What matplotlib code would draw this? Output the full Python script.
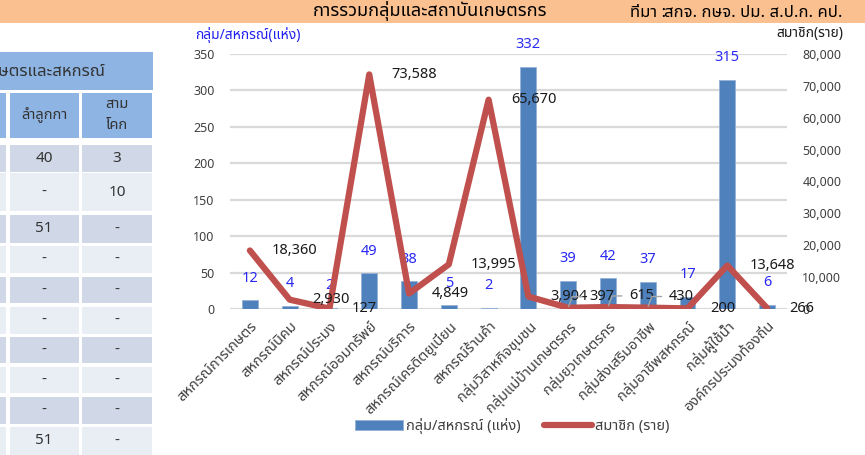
import matplotlib
matplotlib.use('Agg')
import matplotlib.pyplot as plt
from matplotlib.patches import Rectangle
import numpy as np

plt.rcParams['font.family'] = ['Noto Sans', 'Noto Sans Thai', 'DejaVu Sans']

# ข้อมูลกราฟ
categories = ['สหกรณ์การเกษตร', 'สหกรณ์นิคม', 'สหกรณ์ประมง', 'สหกรณ์ออมทรัพย์',
              'สหกรณ์บริการ', 'สหกรณ์เครดิตยูเนี่ยน', 'สหกรณ์ร้านค้า',
              'กลุ่มวิสาหกิจชุมชน', 'กลุ่มแม่บ้านเกษตรกร', 'กลุ่มยุวเกษตรกร',
              'กลุ่มส่งเสริมอาชีพ', 'กลุ่มอาชีพสหกรณ์', 'กลุ่มผู้ใช้น้ำ',
              'องค์กรประมงท้องถิ่น']
groups = [12, 4, 2, 49, 38, 5, 2, 332, 39, 42, 37, 17, 315, 6]
members = [18360, 2930, 127, 73588, 4849, 13995, 65670, 3904, 397, 615, 430, 200, 13648, 266]
# ป้ายที่ excel ยกขึ้นพร้อมเส้นโยง
lifted = [8, 9, 10]

# ตารางด้านซ้าย (ถูกตัดขอบ)
table_header = 'เกษตรและสหกรณ์'
col_names = ['ลำลูกกา', 'สาม\nโคก']
col_lamlukka = ['40', '-', '51', '-', '-', '-', '-', '-', '-', '51']
col_samkhok = ['3', '10', '-', '-', '-', '-', '-', '-', '-', '-']
row_tops = [145, 173, 215, 246, 277, 307, 337, 367, 397, 427]
row_bots = [172, 211, 243, 273, 303, 334, 363, 393, 424, 455]

W, H = 865, 455
fig = plt.figure(figsize=(W / 100, H / 100), dpi=100)


def fx(x):
    return x / W


def fy(y):
    return 1 - y / H


def box(x0, y0, x1, y1, color):
    fig.patches.append(Rectangle((fx(x0), fy(y1)), (x1 - x0) / W, (y1 - y0) / H,
                                 transform=fig.transFigure, color=color, lw=0, zorder=0))


# แถบหัวเรื่อง
box(0, 0, W, 23, '#FAC090')
fig.text(fx(430), fy(11), 'การรวมกลุ่มและสถาบันเกษตรกร', ha='center', va='center',
         fontsize=13, fontweight='bold', color='black')
fig.text(fx(630), fy(13), 'ที่มา :', ha='left', va='center', fontsize=12,
         fontweight='bold', color='black')
fig.text(fx(843), fy(13), 'สกจ. กษจ. ปม. ส.ป.ก. คป.', ha='right', va='center',
         fontsize=12, color='black')

# ตาราง
head_c = '#8DB4E2'
box(0, 52, 153, 90, head_c)
fig.text(fx(105), fy(72), table_header, ha='right', va='center', fontsize=12, color='#333333')
box(0, 93, 6, 138, head_c)
box(10, 93, 79, 138, head_c)
box(82, 93, 152, 138, head_c)
fig.text(fx(44), fy(115), col_names[0], ha='center', va='center', fontsize=10.5, color='#333333')
fig.text(fx(117), fy(115), col_names[1], ha='center', va='center', fontsize=10.5,
         color='#333333', linespacing=1.6)
for i in range(len(row_tops)):
    c = '#D0D8E8' if i % 2 == 0 else '#E9EDF4'
    y0, y1 = row_tops[i], row_bots[i]
    box(0, y0, 6, y1, c)
    box(10, y0, 79, y1, c)
    box(82, y0, 152, y1, c)
    ym = (y0 + y1) / 2
    fig.text(fx(44), fy(ym), col_lamlukka[i], ha='center', va='center', fontsize=11, color='#333333')
    fig.text(fx(117), fy(ym), col_samkhok[i], ha='center', va='center', fontsize=11, color='#333333')

# กราฟ
ax = fig.add_axes([fx(230), fy(309), 557 / W, 255 / H])
ax2 = ax.twinx()
x = np.arange(len(categories))

bars = ax.bar(x, groups, width=0.4, color='#4F81BD', edgecolor='#95B3D7', lw=0.6,
              label='กลุ่ม/สหกรณ์ (แห่ง)')
for xi, v in zip(x, groups):
    ax.annotate(str(v), (xi, v), xytext=(0, 16), textcoords='offset points',
                ha='center', va='center', fontsize=10.5, color='#2A2AF5')

line, = ax2.plot(x, members, color='#C0504D', lw=4.5, solid_capstyle='round',
                 solid_joinstyle='round', label='สมาชิก (ราย)', zorder=3)
for i, (xi, v) in enumerate(zip(x, members)):
    if i in lifted:
        ax2.annotate(f'{v:,}', (xi, v), xytext=(15, 8), textcoords='offset points',
                     ha='left', va='center', fontsize=10.5, color='#1A1A1A', zorder=4,
                     arrowprops=dict(arrowstyle='-', color='#A6A6A6', lw=1,
                                     connectionstyle='angle,angleA=0,angleB=70,rad=0',
                                     shrinkA=3, shrinkB=1))
    else:
        ax2.annotate(f'{v:,}', (xi, v), xytext=(16, 0), textcoords='offset points',
                     ha='left', va='center', fontsize=10.5, color='#1A1A1A', zorder=4)

ax.set_xlim(-0.5, len(categories) - 0.5)
ax.set_ylim(0, 350)
ax.set_yticks(np.arange(0, 351, 50))
ax2.set_ylim(0, 80000)
ax2.set_yticks(np.arange(0, 80001, 10000))
ax2.set_yticklabels([f'{int(t):,}' for t in np.arange(0, 80001, 10000)])

ax.yaxis.grid(True, color='#D9D9D9', lw=1.6)
ax.set_axisbelow(True)
for a in (ax, ax2):
    for s in a.spines.values():
        s.set_visible(False)
ax.tick_params(axis='y', length=0, pad=11, labelsize=9, labelcolor='#404040')
ax2.tick_params(axis='y', length=0, pad=11, labelsize=9, labelcolor='#404040')
ax.tick_params(axis='x', length=0, pad=7)
ax.set_xticks(x)
ax.set_xticklabels(categories, rotation=45, ha='right', rotation_mode='anchor',
                   fontsize=10.5, color='#404040')

fig.text(fx(195), fy(35), 'กลุ่ม/สหกรณ์(แห่ง)', ha='left', va='center', fontsize=10,
         color='#2020F0')
fig.text(fx(843), fy(34), 'สมาชิก(ราย)', ha='right', va='center', fontsize=10, color='#1A1A1A')

fig.legend([bars, line], ['กลุ่ม/สหกรณ์ (แห่ง)', 'สมาชิก (ราย)'], loc='center',
           bbox_to_anchor=(fx(512), fy(426)), ncol=2, frameon=False, fontsize=10.5,
           handlelength=3.3, handletextpad=0.2, columnspacing=1.6, labelcolor='#404040')

fig.savefig('out.png', dpi=100, facecolor='white')
